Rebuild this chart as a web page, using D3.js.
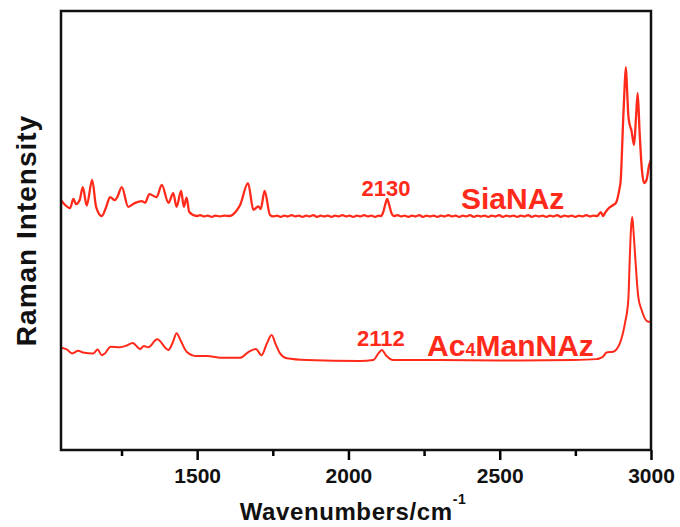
<!DOCTYPE html>
<html>
<head>
<meta charset="utf-8">
<script src="https://cdn.jsdelivr.net/npm/d3@7/dist/d3.min.js"></script>
<style>
  html, body { margin: 0; padding: 0; background: #fff; }
  svg { display: block; }
  text { font-family: "Liberation Sans", Arial, sans-serif; }
</style>
</head>
<body>
<svg id="chart" width="680" height="527"></svg>
<script>
// ---- Data (wavenumber cm^-1, relative Raman intensity) ----
const siaNAz = [
  [1050,56.9],[1080,55.1],[1091,57.2],[1100,56.0],[1112,57.0],[1122,59.9],[1135,55.7],[1153,61.5],
  [1166,55.4],[1185,53.3],[1200,55.5],[1212,57.6],[1228,56.9],[1236,57.6],[1251,59.9],[1272,55.4],
  [1295,56.3],[1317,56.7],[1328,56.3],[1342,58.3],[1366,57.6],[1383,60.4],[1405,56.3],[1421,58.5],
  [1432,55.4],[1447,59.0],[1456,55.4],[1465,57.5],[1474,54.2],[1498,53.3],[1510,53.5],[1522,53.2],
  [1535,53.4],[1548,53.1],[1560,53.4],[1575,53.2],[1590,53.4],[1608,53.3],[1630,54.5],[1642,55.8],
  [1668,60.8],[1686,54.7],[1702,55.5],[1710,54.9],[1723,59.0],[1741,53.5],[1752,53.2],[1764,53.4],
  [1776,53.1],[1788,53.4],[1800,53.2],[1812,53.5],[1824,53.2],[1836,53.4],[1848,53.1],[1860,53.4],
  [1872,53.2],[1884,53.5],[1896,53.1],[1908,53.4],[1920,53.2],[1932,53.4],[1944,53.1],[1956,53.4],
  [1968,53.2],[1980,53.5],[1992,53.2],[2004,53.4],[2016,53.1],[2028,53.4],[2040,53.2],[2052,53.5],
  [2064,53.2],[2076,53.4],[2088,53.1],[2100,53.4],[2108,53.3],[2115,54.2],[2122,56.0],[2128,57.2],
  [2134,56.0],[2142,54.0],[2150,53.3],[2162,53.5],[2174,53.2],[2186,53.4],[2198,53.1],[2210,53.4],
  [2222,53.2],[2234,53.5],[2246,53.1],[2258,53.4],[2270,53.2],[2282,53.4],[2294,53.1],[2306,53.4],
  [2318,53.2],[2330,53.5],[2342,53.2],[2354,53.4],[2366,53.1],[2378,53.4],[2390,53.2],[2402,53.5],
  [2414,53.1],[2426,53.4],[2438,53.2],[2450,53.4],[2462,53.1],[2474,53.4],[2486,53.2],[2498,53.5],
  [2510,53.1],[2522,53.4],[2534,53.2],[2546,53.4],[2558,53.1],[2570,53.4],[2582,53.2],[2594,53.5],
  [2606,53.1],[2618,53.4],[2630,53.2],[2642,53.4],[2654,53.1],[2666,53.4],[2678,53.2],[2690,53.5],
  [2702,53.1],[2714,53.4],[2726,53.2],[2738,53.4],[2750,53.1],[2762,53.4],[2774,53.2],[2786,53.5],
  [2798,53.2],[2810,53.4],[2822,53.3],[2834,54.2],[2842,53.3],[2848,54.0],[2864,55.3],
  [2875,55.8],[2884,56.3],[2895,59.2],[2900,61.5],[2903,66.1],[2908,75.2],[2913,83.1],[2917,87.2],
  [2921,82.0],[2925,76.3],[2930,74.0],[2935,72.9],[2944,69.5],[2950,75.2],[2956,81.3],[2962,72.9],
  [2970,63.8],[2977,60.8],[2985,61.5],[2994,64.9],[3000,66.1]
];
const ac4ManNAz = [
  [1052,23.3],[1069,22.9],[1087,22.0],[1107,22.6],[1123,22.2],[1157,22.0],[1171,22.9],[1185,21.6],
  [1195,22.0],[1214,23.5],[1245,23.4],[1267,23.8],[1287,24.4],[1311,23.0],[1324,23.7],[1338,23.4],
  [1368,25.2],[1405,22.8],[1420,24.6],[1432,26.6],[1445,25.0],[1465,22.4],[1498,21.4],[1531,21.4],
  [1586,21.0],[1642,21.0],[1669,22.3],[1694,23.0],[1713,21.6],[1730,24.2],[1746,26.2],[1760,24.0],
  [1774,22.0],[1796,20.9],[1862,20.5],[2038,20.3],[2082,20.5],[2099,22.0],[2110,22.8],[2126,21.4],
  [2148,20.5],[2302,20.5],[2500,20.4],[2743,20.5],[2820,20.7],[2831,20.9],[2842,21.3],[2853,22.2],
  [2875,22.4],[2897,24.3],[2914,28.9],[2925,34.2],[2930,44.0],[2934,50.5],[2938,53.1],[2942,50.0],
  [2947,44.8],[2958,34.9],[2969,31.9],[2991,29.2],[3000,29.2]
];
const majorTicks = [1500, 2000, 2500, 3000];
const minorTicks = [1250, 1750, 2250, 2750];
const peakLabels = [
  { text: "2130", w: 2124, v: 57.9 },
  { text: "2112", w: 2107, v: 23.7 }
];
const seriesLabels = [
  { parts: [["SiaNAz", 30]], w: 2372, v: 54.9 },
  { parts: [["Ac", 30], ["4", 18], ["ManNAz", 30]], w: 2260, v: 21.4 }
];

// ---- Layout ----
const red = "#ff2a1a";
const margin = { left: 61, right: 29, top: 11, bottom: 77 };
const W = 680, H = 527;
const svg = d3.select("#chart");

const x = d3.scaleLinear().domain([1050, 3000]).range([margin.left, W - margin.right]);
const y = d3.scaleLinear().domain([0, 100]).range([H - margin.bottom, margin.top]);

const smooth = d3.line().x(d => x(d[0])).y(d => y(d[1])).curve(d3.curveMonotoneX);

// clip
svg.append("clipPath").attr("id", "clip").append("rect")
  .attr("x", x.range()[0]).attr("y", y.range()[1])
  .attr("width", x.range()[1] - x.range()[0]).attr("height", y.range()[0] - y.range()[1]);

const g = svg.append("g").attr("clip-path", "url(#clip)");
g.append("path").datum(siaNAz).attr("d", smooth)
  .attr("fill", "none").attr("stroke", red).attr("stroke-width", 2.3)
  .attr("stroke-linejoin", "round");
g.append("path").datum(ac4ManNAz).attr("d", smooth)
  .attr("fill", "none").attr("stroke", red).attr("stroke-width", 2)
  .attr("stroke-linejoin", "round");

// axes
const axisY = y.range()[0];
const major = svg.append("g").attr("transform", `translate(0,${axisY})`)
  .call(d3.axisBottom(x).tickValues(majorTicks).tickSize(10).tickPadding(8).tickFormat(d3.format("d")));
const minor = svg.append("g").attr("transform", `translate(0,${axisY})`)
  .call(d3.axisBottom(x).tickValues(minorTicks).tickSize(6).tickFormat(""));
[major, minor].forEach(a => {
  a.select(".domain").remove();
  a.selectAll("line").attr("stroke", "#000").attr("stroke-width", 2.5);
});
major.selectAll("text").attr("font-size", 21).attr("font-weight", "bold").attr("fill", "#111")
  .style("font-family", '"Liberation Sans", Arial, sans-serif');

// frame
svg.append("rect")
  .attr("x", x.range()[0]).attr("y", y.range()[1])
  .attr("width", x.range()[1] - x.range()[0]).attr("height", y.range()[0] - y.range()[1])
  .attr("fill", "none").attr("stroke", "#111").attr("stroke-width", 2.5);

// peak labels
peakLabels.forEach(p => {
  svg.append("text").attr("x", x(p.w)).attr("y", y(p.v))
    .attr("text-anchor", "middle").attr("font-size", 22).attr("font-weight", "bold")
    .attr("fill", red).text(p.text);
});
// series labels
seriesLabels.forEach(s => {
  const t = svg.append("text").attr("x", x(s.w)).attr("y", y(s.v))
    .attr("font-weight", "bold").attr("fill", red);
  s.parts.forEach(([txt, size]) => t.append("tspan").attr("font-size", size).text(txt));
});

// axis titles
const xt = svg.append("text").attr("x", 353).attr("y", 520)
  .attr("text-anchor", "middle").attr("font-size", 24).attr("font-weight", "bold")
  .attr("letter-spacing", 0.6).attr("fill", "#111");
xt.append("tspan").text("Wavenumbers/cm");
xt.append("tspan").attr("font-size", 14).attr("dy", -16).text("-1");

svg.append("text")
  .attr("transform", `translate(36,${(y.range()[0] + y.range()[1]) / 2}) rotate(-90)`)
  .attr("text-anchor", "middle").attr("font-size", 28).attr("font-weight", "bold")
  .attr("letter-spacing", 1).attr("fill", "#111").text("Raman Intensity");
</script>
</body>
</html>
